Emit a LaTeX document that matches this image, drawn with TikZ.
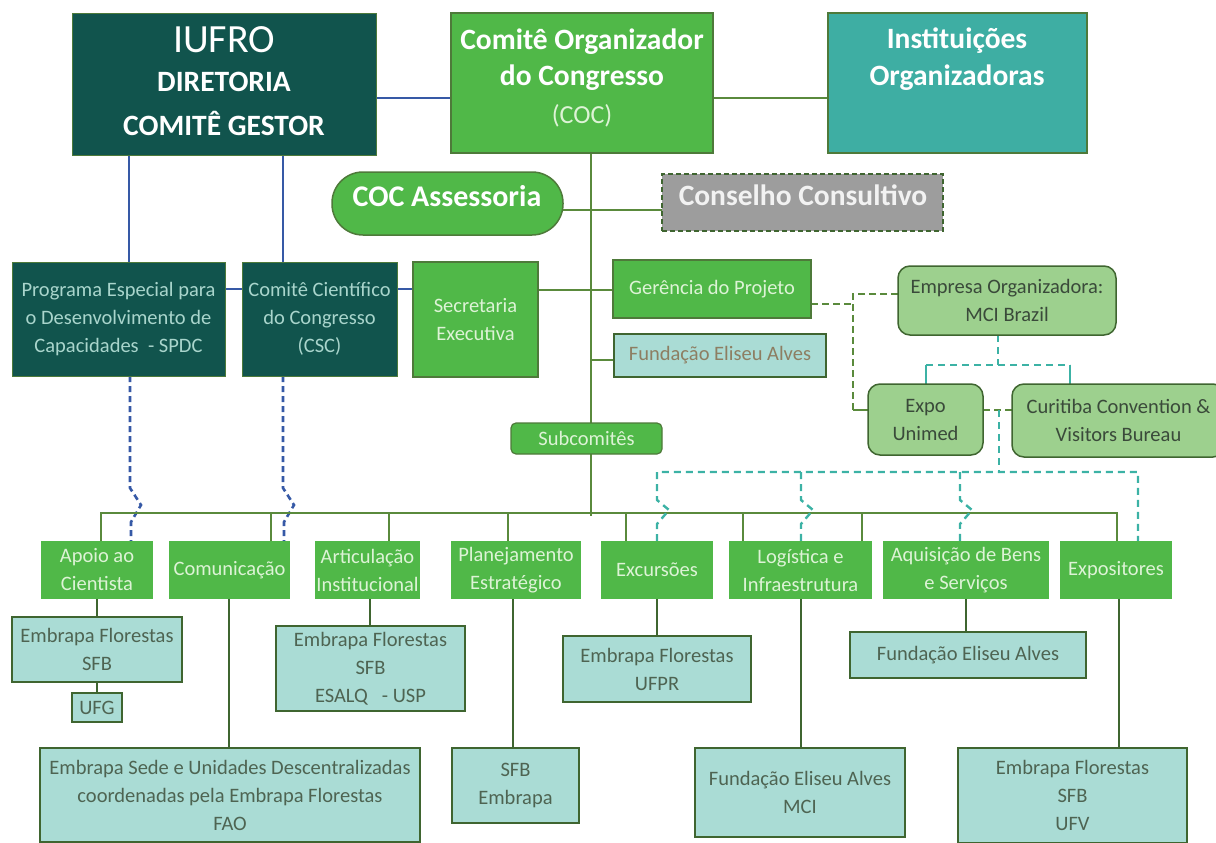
\documentclass[tikz,border=0pt]{standalone}
\usepackage{fontspec}
\setmainfont{Carlito}
\usetikzlibrary{calc}
\pgfdeclarelayer{bg}
\pgfsetlayers{bg,main}
\definecolor{dteal}{HTML}{11544D}
\definecolor{mgreen}{HTML}{50B848}
\definecolor{iteal}{HTML}{3EAEA3}
\definecolor{cgray}{HTML}{9D9D9D}
\definecolor{lteal}{HTML}{AADCD5}
\definecolor{lgreen}{HTML}{9DD08E}
\definecolor{bordg}{HTML}{4E7A3A}
\definecolor{lineg}{HTML}{5A8A3C}
\definecolor{lined}{HTML}{3F6530}
\definecolor{lblue}{HTML}{3659A6}
\definecolor{tdash}{HTML}{3CB2A5}
\definecolor{dttext}{HTML}{A9D5CC}
\definecolor{gtext}{HTML}{DDF3D6}
\definecolor{stext}{HTML}{4E6452}
\definecolor{ftext}{HTML}{8D7E62}
\definecolor{etext}{HTML}{3A4A3A}
\newcommand\rg{\fontsize{20.5}{28}\selectfont}
\newcommand\bigb{\fontsize{29.5}{32}\selectfont\bfseries}
\newcommand\bcoc{\fontsize{29.5}{32}\selectfont\bfseries}
\begin{document}
\begin{tikzpicture}[x=1pt,y=-1pt,
  every node/.style={inner sep=0pt,outer sep=0pt,align=center},
  sz/.style 2 args={minimum width=#1pt,minimum height=#2pt},
  dtbox/.style={draw=bordg,fill=dteal,line width=0.8pt,text=dttext,font=\rg},
  gbox/.style={draw=bordg,fill=mgreen,line width=1.2pt,text=gtext,font=\rg},
  cbox/.style={fill=mgreen,text=gtext,font=\rg},
  sbox/.style={draw=lined,fill=lteal,line width=1.5pt,text=stext,font=\rg},
  obox/.style={draw=lined,fill=lgreen,line width=1.5pt,rounded corners=12pt,text=etext,font=\rg},
  gline/.style={draw=lineg,line width=2.4pt},
  dline/.style={draw=lined,line width=2.6pt},
  bline/.style={draw=lblue,line width=2.2pt},
  bdash/.style={draw=lblue,line width=2.6pt,dash pattern=on 6pt off 4pt},
  gdash/.style={draw=lineg,line width=2.4pt,dash pattern=on 7pt off 4pt},
  tdashed/.style={draw=tdash,line width=2.4pt,dash pattern=on 7pt off 5pt},
  tline/.style={draw=tdash,line width=2pt},
]
\useasboundingbox (0,0) rectangle (1216,843);

% ---- top row
\node[dtbox,sz={304}{142}] (iufro) at (224,84) {};
\node[anchor=base,text=white,font=\fontsize{40}{42}\selectfont] (iufroA) at (224,53) {IUFRO};
\node[anchor=base,text=white,font=\bigb] (iufroB) at (224,92) {DIRETORIA};
\node[anchor=base,text=white,font=\bigb] (iufroC) at (224,135) {COMITÊ GESTOR};

\node[gbox,sz={262}{140}] (coc) at (582,83) {};
\node[anchor=base,text=white,font=\bcoc] (cocA) at (582,50) {Comitê Organizador};
\node[anchor=base,text=white,font=\bcoc] (cocB) at (582,85) {do Congresso};
\node[anchor=base,text=gtext,font=\fontsize{26}{30}\selectfont] (cocC) at (582,123) {(COC)};

\node[draw=bordg,fill=iteal,line width=1.2pt,sz={259}{140}] (inst) at (957.5,83) {};
\node[anchor=base,text=white,font=\bcoc] (instA) at (957,49) {Instituições};
\node[anchor=base,text=white,font=\bcoc] (instB) at (957,85) {Organizadoras};

\node[draw=bordg,fill=mgreen,line width=1.5pt,rounded corners=31pt,sz={231}{63}] (ass) at (447.5,203.5) {};
\node[anchor=base,text=white,font=\fontsize{30}{32}\selectfont\bfseries] (assT) at (447,206) {COC Assessoria};

\node[draw=lined,fill=cgray,line width=2pt,dash pattern=on 5pt off 3pt,sz={281}{57}] (cons) at (802.5,202.5) {};
\node[anchor=base,text=white!95!black,font=\fontsize{29.5}{32}\selectfont\bfseries] (consT) at (803,205) {Conselho Consultivo};

% ---- middle
\node[dtbox,sz={213}{114}] (spdc) at (118.5,319) {Programa Especial para\\ o Desenvolvimento de\\Capacidades\ \ - SPDC};
\node[dtbox,sz={155}{114}] (csc) at (319.5,319) {Comitê Científico\\do Congresso\\(CSC)};
\node[gbox,sz={125}{115}] (sec) at (475.5,319.5) {Secretaria\\Executiva};
\node[gbox,sz={198}{58}] (ger) at (712,289) {Gerência do Projeto};
\node[draw=lined,fill=lteal,line width=1.2pt,text=ftext,font=\rg,sz={212}{43}] (fea) at (720,355.5) {Fundação Eliseu Alves};
\node[gbox,rounded corners=5pt,sz={151}{31}] (sub) at (586.5,438.5) {Subcomitês};

\node[obox,sz={218}{69}] (emp) at (1007,300.5) {Empresa Organizadora:\\MCI Brazil};
\node[obox,sz={115}{71}] (expo) at (925.5,419.5) {Expo\\Unimed};
\node[obox,sz={213}{73}] (cur) at (1118.5,420.5) {Curitiba Convention \&\\Visitors Bureau};

% ---- subcommittees
\node[cbox,sz={112}{58}] (c1) at (97,570) {Apoio ao\\Cientista};
\node[cbox,sz={121}{58}] (c2) at (229.5,570) {Comunicação};
\node[cbox,sz={105}{58}] (c3) at (367.5,570) {Articulação\\Institucional};
\node[cbox,sz={130}{58}] (c4) at (516,570) {Planejamento\\Estratégico};
\node[cbox,sz={112}{58}] (c5) at (657,570) {Excursões};
\node[cbox,sz={143}{58}] (c6) at (800.5,570) {Logística e\\Infraestrutura};
\node[cbox,sz={166}{58}] (c7) at (966,570) {Aquisição de Bens\\e Serviços};
\node[cbox,sz={112}{58}] (c8) at (1116,570) {Expositores};

% ---- institutions
\node[sbox,sz={170}{65}] (s1a) at (97,649.5) {Embrapa Florestas\\SFB};
\node[sbox,sz={50}{29}] (s1b) at (97,707.5) {UFG};
\node[sbox,sz={380}{94}] (s2) at (230,795) {Embrapa Sede e Unidades Descentralizadas\\coordenadas pela Embrapa Florestas\\FAO};
\node[sbox,sz={189}{85}] (s3) at (370.5,668.5) {Embrapa Florestas\\SFB\\ESALQ\ \ \ - USP};
\node[sbox,sz={127}{75}] (s4) at (515.5,785.5) {SFB\\Embrapa};
\node[sbox,sz={188}{66}] (s5) at (657,669) {Embrapa Florestas\\UFPR};
\node[sbox,sz={210}{89}] (s6) at (800,792.5) {Fundação Eliseu Alves\\MCI};
\node[sbox,sz={236}{46}] (s7) at (968,655) {Fundação Eliseu Alves};
\node[sbox,sz={229}{95}] (s8) at (1072.5,795.5) {Embrapa Florestas\\SFB\\UFV};

% ---- connectors
\begin{pgfonlayer}{bg}
% blue
\draw[bline] (iufro.east |- 0,98) -- (coc.west |- 0,98);
\draw[bline] (iufro.south -| 129,0) -- (spdc.north -| 129,0);
\draw[bline] (iufro.south -| 283,0) -- (csc.north -| 283,0);
\draw[bline] (spdc.east |- 0,289) -- (csc.west |- 0,289);
\draw[bline] (csc.east |- 0,289) -- (sec.west |- 0,289);
\draw[bdash] (spdc.south -| 130,0) -- (130,488) -- (141,505) -- (131,522) -- (c1.north -| 131,0);
\draw[bdash] (csc.south -| 283,0) -- (283,488) -- (294,505) -- (284,522) -- (c2.north -| 284,0);
% green main
\draw[gline] (coc.east |- 0,98) -- (inst.west |- 0,98);
\coordinate (busM) at (591,516);
\draw[gline] (coc.south -| busM) -- (busM);
\draw[gline] (ass.east |- 0,210) -- (cons.west |- 0,210);
\draw[gline] (sec.east |- 0,290) -- (ger.west |- 0,290);
\coordinate (jF) at (591,360);
\draw[gline] (jF) -- (fea.west |- jF);
\coordinate (bL) at (101,513);
\coordinate (bR) at (1117,513);
\draw[gline] (c1.north -| bL) -- (bL) -- (bR) -- (c8.north -| bR);
\coordinate (b2) at (271,513);
\coordinate (b3) at (389,513);
\coordinate (b4) at (508,513);
\coordinate (b5) at (626,513);
\coordinate (b6) at (743,513);
\coordinate (b7) at (862,513);
\draw[gline] (b2) -- (c2.north -| b2);
\draw[gline] (b3) -- (c3.north -| b3);
\draw[gline] (b4) -- (c4.north -| b4);
\draw[gline] (b5) -- (c5.north -| b5);
\draw[gline] (b6) -- (c6.north -| b6);
\draw[gline] (b7) -- (c6.north -| b7);
% sub lines
\draw[dline] (c1.south) -- (s1a.north);
\draw[dline] (s1a.south) -- (s1b.north);
\draw[dline] (c2.south -| 229,0) -- (s2.north -| 229,0);
\draw[dline] (c3.south -| 370,0) -- (s3.north -| 370,0);
\draw[dline] (c4.south -| 513,0) -- (s4.north -| 513,0);
\draw[dline] (c5.south) -- (s5.north);
\draw[dline] (c6.south -| 801,0) -- (s6.north -| 801,0);
\draw[dline] (c7.south) -- (c7.south |- s7.north);
\draw[dline] (c8.south -| 1119,0) -- (s8.north -| 1119,0);
% green dashed
\coordinate (gj1) at (853,304);
\coordinate (gj2) at (853,294);
\coordinate (gj3) at (853,410);
\draw[gdash] (ger.east |- gj1) -- (gj1);
\draw[gdash] (emp.west |- gj2) -- (gj2) -- (gj3);
\draw[gline] (gj3) -- (expo.west |- gj3);
\draw[gdash] (expo.east |- gj3) -- (cur.west |- gj3);
% teal
\coordinate (tj1) at (998,365);
\coordinate (tjL) at (926,365);
\coordinate (tjR) at (1070,365);
\draw[tdashed] (emp.south -| tj1) -- (tj1);
\draw[tdashed] (tjL) -- (tjR);
\draw[tline] (tjL) -- (expo.north -| tjL);
\draw[tline] (tjR) -- (cur.north -| tjR);
\coordinate (tk) at (999,410);
\coordinate (tk2) at (999,472);
\draw[tdashed] (tk) -- (tk2);
\coordinate (tL) at (657,472);
\coordinate (tM) at (801,472);
\coordinate (tN) at (960,472);
\coordinate (tR) at (1138,472);
\draw[tdashed] (c5.north -| tL) -- (657,524) -- (669,510) -- (657,500) -- (tL) -- (tR) -- (c8.north -| tR);
\draw[tdashed] (tM) -- (801,500) -- (813,510) -- (801,524) -- (c6.north -| tM);
\draw[tdashed] (tN) -- (960,500) -- (972,510) -- (960,524) -- (c7.north -| tN);
\end{pgfonlayer}
\end{tikzpicture}
\end{document}
